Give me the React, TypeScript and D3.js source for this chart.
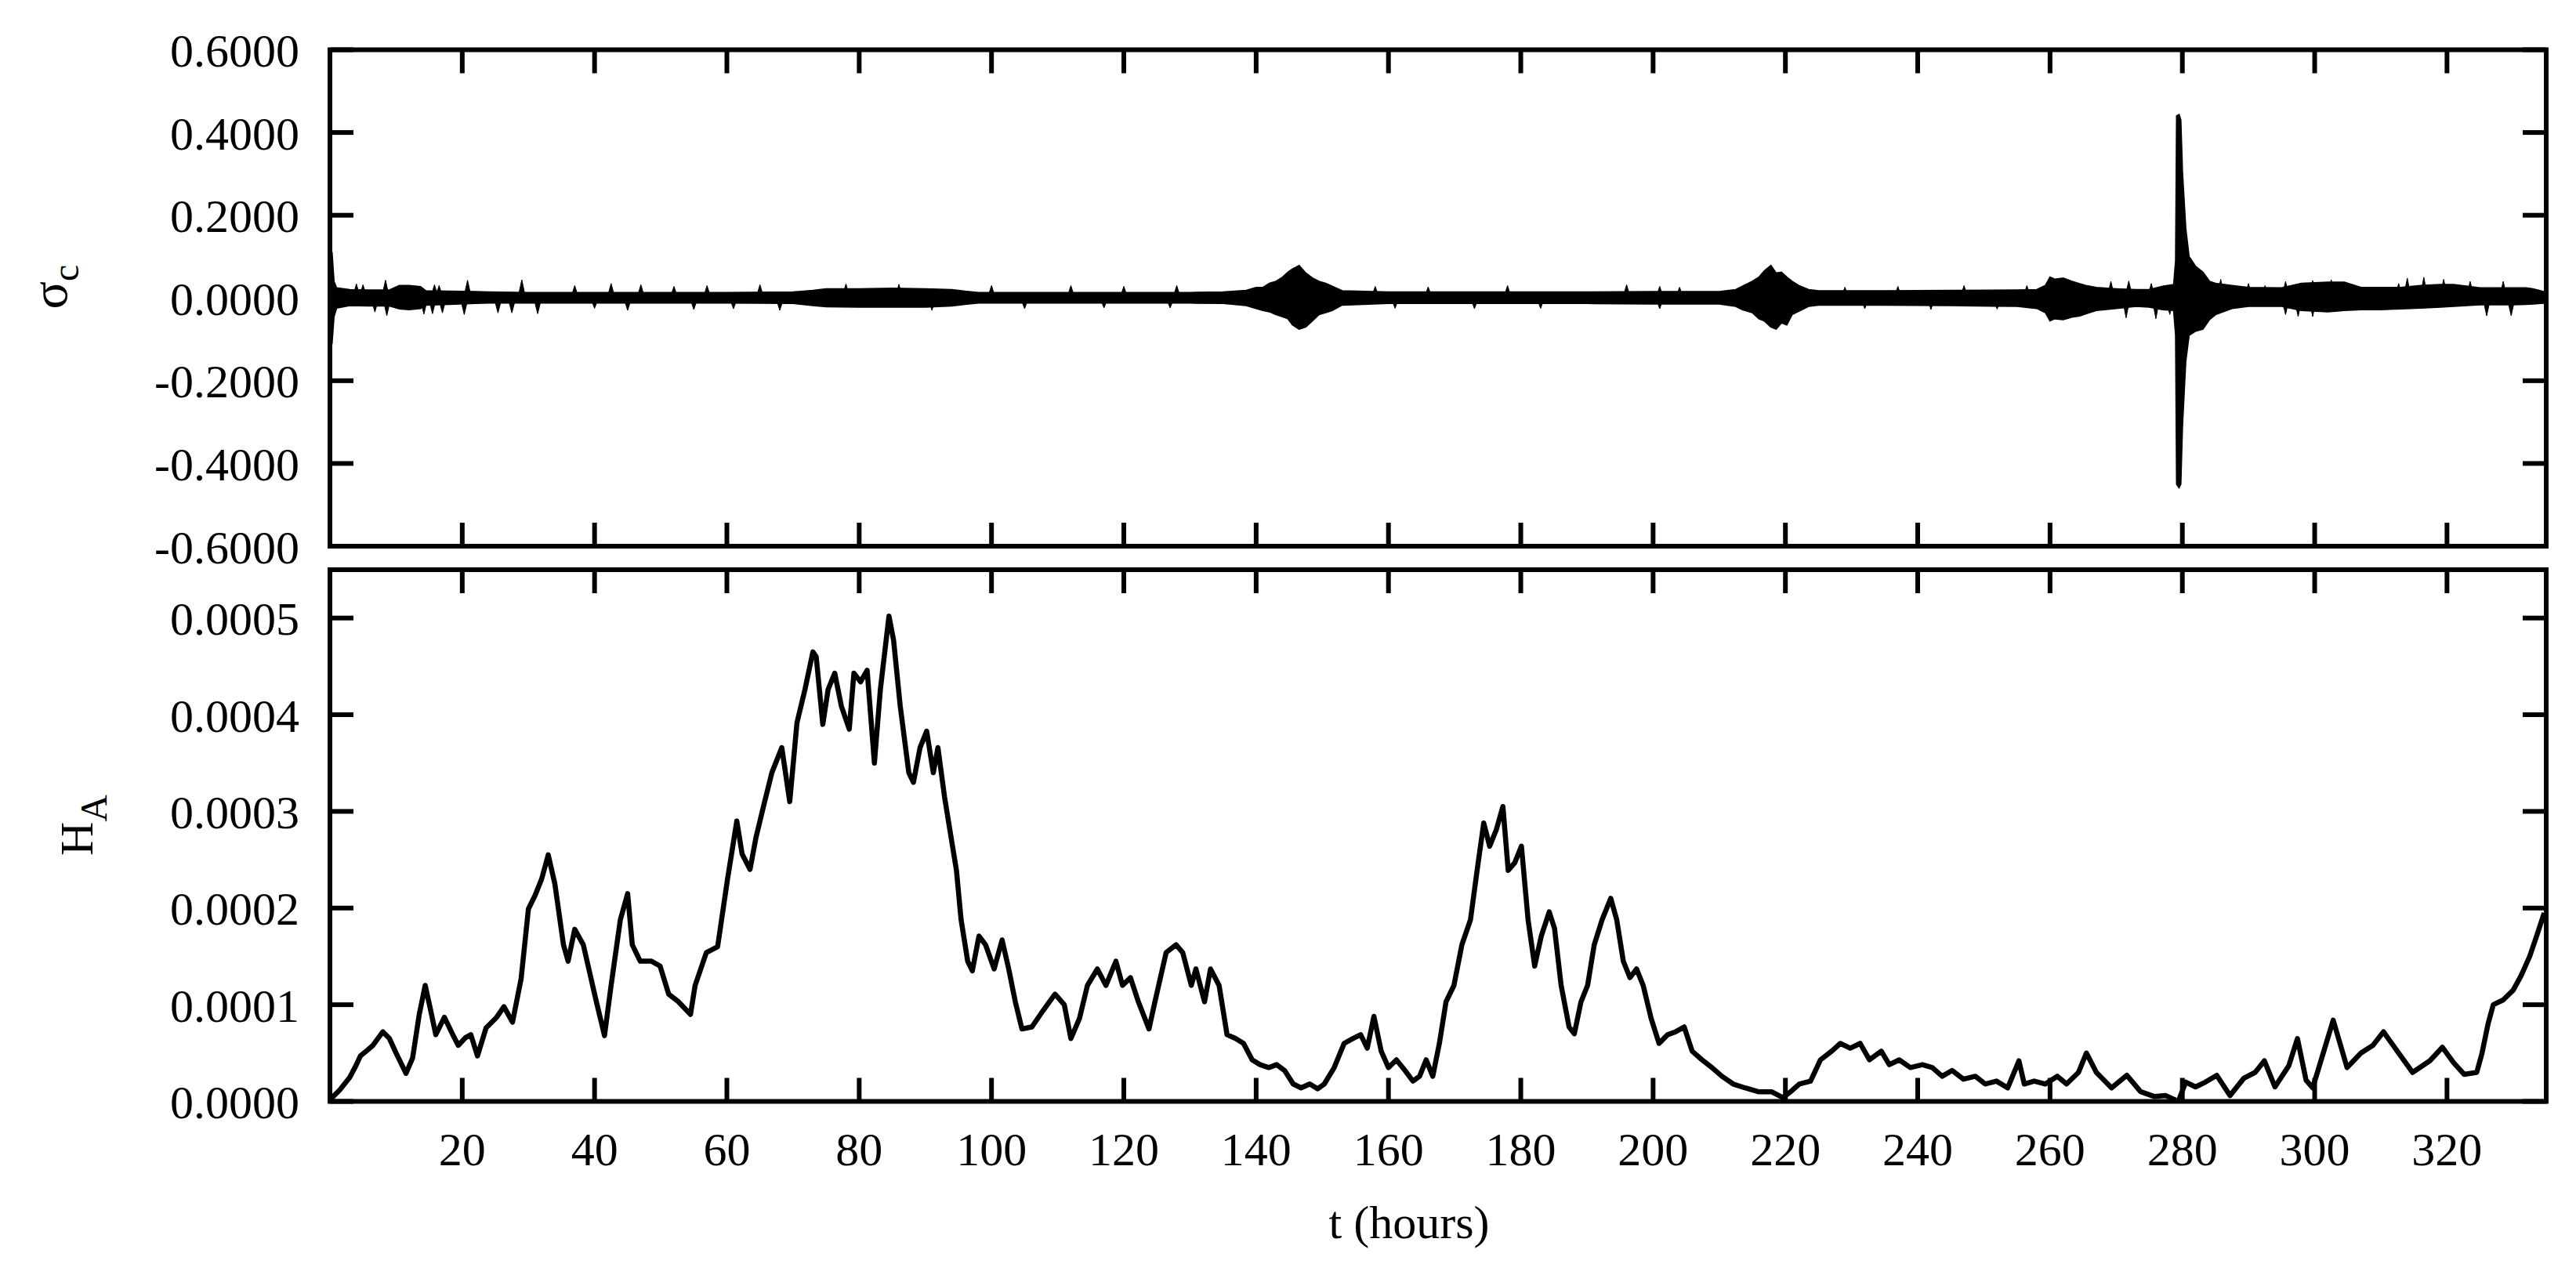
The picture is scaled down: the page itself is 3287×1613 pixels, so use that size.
import React from "react";
import * as d3 from "d3";

// ---------- data ----------
// sigma_c : dense oscillation, stored as the envelope of its band ...
const sigmaT = [0,0.3,0.6,1,3,6,9,10.5,12,13.7,14.5,18,22,24,30,40,50,60,70,73,75,80,85,90,94,96,98,110,120,130,135,138.5,140,141,142,143,144,144.8,145.5,146.5,147.5,148.5,149.5,150.5,151.5,153,160,170,180,190,200,210,212.5,213.5,215,216,216.8,217.8,218.6,219.4,220.2,221,222,223.5,225,235,245,255,258,259.3,260,260.7,262,263.3,264.5,265.4,267,270,273,275,277,278.7,279,279.15,279.5,279.75,280,280.5,281,282,283.1,284.1,285,287.5,290,295,298,302,304.5,307,310,313,316,319,321,325,330,332,333,334.9];
const sigmaHi = [0.12,0.11,0.04,0.024,0.02,0.019,0.019,0.03,0.03,0.027,0.017,0.016,0.015,0.014,0.013,0.013,0.013,0.013,0.014,0.018,0.022,0.022,0.023,0.022,0.02,0.016,0.013,0.013,0.013,0.013,0.014,0.018,0.025,0.025,0.035,0.04,0.05,0.062,0.07,0.078,0.06,0.048,0.04,0.035,0.028,0.017,0.014,0.014,0.014,0.014,0.015,0.015,0.02,0.028,0.04,0.05,0.065,0.078,0.06,0.062,0.05,0.04,0.03,0.02,0.017,0.017,0.018,0.019,0.02,0.03,0.05,0.045,0.048,0.04,0.034,0.03,0.025,0.022,0.02,0.02,0.028,0.032,0.09,0.44,0.443,0.43,0.305,0.168,0.1,0.076,0.062,0.04,0.035,0.03,0.025,0.024,0.035,0.038,0.038,0.025,0.025,0.025,0.03,0.032,0.032,0.024,0.024,0.024,0.022,0.014];
const sigmaLo = [-0.11,-0.11,-0.045,-0.024,-0.018,-0.019,-0.019,-0.026,-0.028,-0.025,-0.017,-0.015,-0.013,-0.012,-0.012,-0.012,-0.012,-0.012,-0.013,-0.018,-0.021,-0.022,-0.022,-0.022,-0.019,-0.015,-0.012,-0.012,-0.012,-0.012,-0.013,-0.018,-0.025,-0.03,-0.033,-0.04,-0.045,-0.05,-0.065,-0.075,-0.07,-0.055,-0.04,-0.035,-0.03,-0.017,-0.013,-0.013,-0.013,-0.013,-0.014,-0.014,-0.02,-0.028,-0.035,-0.05,-0.055,-0.07,-0.075,-0.06,-0.065,-0.04,-0.032,-0.02,-0.017,-0.017,-0.018,-0.02,-0.025,-0.035,-0.055,-0.05,-0.052,-0.046,-0.043,-0.038,-0.03,-0.025,-0.02,-0.022,-0.028,-0.03,-0.09,-0.45,-0.458,-0.45,-0.31,-0.153,-0.09,-0.08,-0.075,-0.052,-0.04,-0.025,-0.02,-0.02,-0.03,-0.033,-0.03,-0.028,-0.028,-0.026,-0.024,-0.022,-0.02,-0.016,-0.016,-0.015,-0.014,-0.012];
// ... and the isolated excursions that stick out of the band
const spikeT = [4,5,8.4,15.8,16.5,20.8,29,37,42.5,47,52,57,65,78,86,100,112,120,128,158,166,178,196,201,204,229,237,247,256.5,269.2,271.9,275.3,285.8,290,292.5,295.6,299.7,302.5,312.7,314,316.5,319.5,323.5,328.5,
  6.8,8.6,14.2,15.5,17,20.3,25.4,27.5,31.4,40,45,55,61,68,91,105,117,127,161,173,183,201,232,242,252,271.5,276,278.1,295.6,297.5,299.7,326,329.7];
const spikeV = [0.034,0.032,0.043,0.032,0.03,0.043,0.044,0.03,0.035,0.032,0.028,0.03,0.032,0.034,0.033,0.03,0.03,0.028,0.03,0.028,0.027,0.03,0.032,0.028,0.026,0.026,0.028,0.03,0.03,0.04,0.041,0.035,0.045,0.035,0.03,0.04,0.042,0.044,0.035,0.048,0.05,0.045,0.04,0.04,
  -0.034,-0.043,-0.039,-0.038,-0.036,-0.04,-0.036,-0.036,-0.038,-0.025,-0.03,-0.028,-0.026,-0.03,-0.03,-0.026,-0.024,-0.024,-0.025,-0.026,-0.025,-0.026,-0.026,-0.028,-0.027,-0.048,-0.05,-0.04,-0.04,-0.045,-0.045,-0.043,-0.043];

// H_A
const hT = [0,0.35,1.5,3,4,4.6,5.5,6.5,8,9,10,11.5,12.5,13.5,14.4,15.2,16,17.3,18.5,19.4,20.5,21.3,22.3,23.6,25.2,26.3,27.6,28.9,30,31,32,33,34,35.3,36,37,38.3,40,41.5,42.5,43.9,45,45.7,46.9,48.6,49.9,51.2,52.7,54.5,55.2,56.9,58.6,60.1,61.5,62.3,63.5,64.4,65.6,66.8,68.3,69.5,70.6,71.8,73,73.5,74.5,75.3,76.3,77.3,78.5,79.2,80.2,81.2,82.3,83.2,84.5,85.2,86.2,87.5,88.2,89.2,90.2,91.2,91.9,92.9,93.7,94.7,95.4,96.4,97.1,98.1,99.1,100.4,101.6,102.6,103.6,104.6,106.1,107.8,109.6,111,112,113.3,114.5,116,117.3,118.8,119.8,121,122.2,123.8,124.7,126.4,127.9,128.9,130.2,130.9,132.2,133.1,134.4,135.6,136.9,138.1,139.4,140.6,141.9,143.1,144.3,145.6,146.8,148.1,149.3,150.3,151.8,153.3,154.6,155.8,156.8,157.8,158.9,160,161.2,162.5,163.7,164.7,165.7,166.7,167.7,168.7,169.9,171.1,172.4,173.4,174.4,175.3,176.3,177.3,178.1,179.1,180.1,181.1,182.1,183.1,184.3,185.1,186.1,187.3,188.1,189.1,190.1,191.1,192.3,193.6,194.5,195.5,196.5,197.5,198.5,199.7,200.9,202.2,203.4,204.7,205.9,207.4,208.9,210.4,212.1,213.9,215.9,217.9,219.6,220.8,222.1,223.8,225.3,227,228.3,229.8,231.3,232.7,234.5,235.7,237.2,238.9,240.7,242.2,243.7,245.2,246.9,248.7,250.2,251.9,253.6,255.3,256.1,257.6,259.3,261.1,262.5,264.3,265.5,267,269.3,271.6,273.7,275.8,277.5,279.4,280.5,282,283.5,285.2,287.2,289.3,291,292.4,294,296.1,297.4,298.7,299.7,301.3,302.8,304.9,307,308.8,310.4,312.7,314.8,317.4,319.3,321,322.6,324.5,325.3,326.2,327,328.5,330,331.2,332.5,333.5,334.7];
const hA = [0,0.04e-4,0.12e-4,0.25e-4,0.38e-4,0.47e-4,0.52e-4,0.58e-4,0.72e-4,0.65e-4,0.5e-4,0.29e-4,0.45e-4,0.9e-4,1.2e-4,0.95e-4,0.69e-4,0.87e-4,0.7e-4,0.58e-4,0.66e-4,0.69e-4,0.47e-4,0.76e-4,0.87e-4,0.98e-4,0.82e-4,1.27e-4,1.99e-4,2.13e-4,2.3e-4,2.55e-4,2.25e-4,1.62e-4,1.45e-4,1.78e-4,1.62e-4,1.11e-4,0.68e-4,1.2e-4,1.88e-4,2.15e-4,1.62e-4,1.45e-4,1.45e-4,1.4e-4,1.11e-4,1.03e-4,0.9e-4,1.2e-4,1.54e-4,1.6e-4,2.3e-4,2.9e-4,2.56e-4,2.4e-4,2.73e-4,3.07e-4,3.4e-4,3.66e-4,3.1e-4,3.92e-4,4.26e-4,4.65e-4,4.6e-4,3.9e-4,4.26e-4,4.43e-4,4.09e-4,3.85e-4,4.43e-4,4.34e-4,4.46e-4,3.5e-4,4.26e-4,5.02e-4,4.77e-4,4.09e-4,3.4e-4,3.3e-4,3.66e-4,3.83e-4,3.4e-4,3.66e-4,3.15e-4,2.81e-4,2.39e-4,1.88e-4,1.45e-4,1.35e-4,1.71e-4,1.62e-4,1.37e-4,1.67e-4,1.37e-4,1.03e-4,0.75e-4,0.77e-4,0.94e-4,1.11e-4,1.0e-4,0.65e-4,0.86e-4,1.2e-4,1.37e-4,1.2e-4,1.45e-4,1.2e-4,1.28e-4,1.03e-4,0.75e-4,1.03e-4,1.54e-4,1.62e-4,1.54e-4,1.2e-4,1.37e-4,1.03e-4,1.37e-4,1.2e-4,0.69e-4,0.65e-4,0.6e-4,0.43e-4,0.38e-4,0.35e-4,0.38e-4,0.32e-4,0.18e-4,0.14e-4,0.18e-4,0.13e-4,0.18e-4,0.35e-4,0.6e-4,0.65e-4,0.69e-4,0.55e-4,0.88e-4,0.52e-4,0.35e-4,0.43e-4,0.32e-4,0.21e-4,0.26e-4,0.43e-4,0.26e-4,0.6e-4,1.03e-4,1.2e-4,1.62e-4,1.88e-4,2.39e-4,2.88e-4,2.64e-4,2.81e-4,3.05e-4,2.39e-4,2.47e-4,2.64e-4,1.88e-4,1.4e-4,1.71e-4,1.96e-4,1.79e-4,1.2e-4,0.77e-4,0.7e-4,1.03e-4,1.2e-4,1.62e-4,1.88e-4,2.1e-4,1.88e-4,1.45e-4,1.28e-4,1.37e-4,1.2e-4,0.86e-4,0.6e-4,0.69e-4,0.72e-4,0.77e-4,0.52e-4,0.43e-4,0.35e-4,0.26e-4,0.18e-4,0.14e-4,0.1e-4,0.1e-4,0.04e-4,0.1e-4,0.18e-4,0.21e-4,0.43e-4,0.52e-4,0.6e-4,0.55e-4,0.6e-4,0.43e-4,0.52e-4,0.38e-4,0.43e-4,0.35e-4,0.38e-4,0.35e-4,0.26e-4,0.32e-4,0.23e-4,0.26e-4,0.18e-4,0.21e-4,0.14e-4,0.42e-4,0.18e-4,0.21e-4,0.18e-4,0.26e-4,0.18e-4,0.3e-4,0.5e-4,0.3e-4,0.14e-4,0.27e-4,0.1e-4,0.05e-4,0.06e-4,0,0.2e-4,0.15e-4,0.2e-4,0.27e-4,0.06e-4,0.24e-4,0.3e-4,0.42e-4,0.15e-4,0.37e-4,0.65e-4,0.22e-4,0.14e-4,0.5e-4,0.84e-4,0.35e-4,0.5e-4,0.58e-4,0.72e-4,0.5e-4,0.3e-4,0.42e-4,0.56e-4,0.4e-4,0.28e-4,0.3e-4,0.5e-4,0.8e-4,1.0e-4,1.05e-4,1.15e-4,1.3e-4,1.5e-4,1.7e-4,1.95e-4];

const xTicks = [20,40,60,80,100,120,140,160,180,200,220,240,260,280,300,320];
const sigmaTicks = [-0.6,-0.4,-0.2,0,0.2,0.4,0.6];
const hTicks = [0,0.0001,0.0002,0.0003,0.0004,0.0005];
const xDomain = [0, 335];
const sigmaDomain = [-0.6, 0.6];
const hDomain = [0, 0.00055];

// ---------- layout ----------
const W = 3287, H = 1613;
const L = 421, R = 3249;
const T1 = 63.5, B1 = 697, T2 = 727, B2 = 1405.5;
const FONT = "'Liberation Serif', 'Times New Roman', Times, serif";
const FS = 60;
const TICK = 30;
const SW = 6;
const SPIKE_HALF = 5;

export default function App() {
  const x = d3.scaleLinear().domain(xDomain).range([L, R]);
  const y1 = d3.scaleLinear().domain(sigmaDomain).range([B1, T1]);
  const y2 = d3.scaleLinear().domain(hDomain).range([B2, T2]);

  const area = d3.area<number>()
    .x((_, i) => x(sigmaT[i]))
    .y0((_, i) => y1(sigmaLo[i]))
    .y1((_, i) => y1(sigmaHi[i]))
    .curve(d3.curveLinear);
  const areaPath = area(sigmaT) || "";

  const spikePath = spikeT.map((t, i) => {
    const p = d3.path();
    p.moveTo(x(t) - SPIKE_HALF, y1(0));
    p.lineTo(x(t), y1(spikeV[i]));
    p.lineTo(x(t) + SPIKE_HALF, y1(0));
    p.closePath();
    return p.toString();
  }).join("");

  const line = d3.line<number>()
    .x((_, i) => x(hT[i]))
    .y((_, i) => y2(hA[i]))
    .curve(d3.curveLinear);
  const linePath = line(hA) || "";

  const fmt = (v: number) => d3.format(".4f")(v).replace("\u2212", "-");

  const panel = (top: number, bot: number, yScale: any, yTicks: number[], key: string) => (
    <g key={key}>
      {xTicks.map((t) => (
        <g key={"xt" + t}>
          <line x1={x(t)} x2={x(t)} y1={bot} y2={bot - TICK} stroke="#000" strokeWidth={SW} />
          <line x1={x(t)} x2={x(t)} y1={top} y2={top + TICK} stroke="#000" strokeWidth={SW} />
        </g>
      ))}
      {yTicks.map((v) => (
        <g key={"yt" + v}>
          <line x1={L} x2={L + TICK} y1={yScale(v)} y2={yScale(v)} stroke="#000" strokeWidth={SW} />
          <line x1={R - TICK} x2={R} y1={yScale(v)} y2={yScale(v)} stroke="#000" strokeWidth={SW} />
          <text x={382} y={yScale(v)} dy="0.36em" textAnchor="end" fontSize={FS} fontFamily={FONT}>
            {fmt(v)}
          </text>
        </g>
      ))}
    </g>
  );

  return (
    <svg width={W} height={H} viewBox={`0 0 ${W} ${H}`}
      style={{ position: "absolute", left: 0, top: 0, display: "block", background: "#fff" }}>
      <rect x={0} y={0} width={W} height={H} fill="#fff" />
      <defs>
        <clipPath id="c1"><rect x={L} y={T1} width={R - L} height={B1 - T1} /></clipPath>
        <clipPath id="c2"><rect x={L} y={T2} width={R - L} height={B2 - T2} /></clipPath>
      </defs>

      <g clipPath="url(#c1)">
        <path d={areaPath} fill="#000" stroke="#000" strokeWidth={2} />
        <path d={spikePath} fill="#000" stroke="#000" strokeWidth={1} />
      </g>
      <path d={linePath} fill="none" stroke="#000" strokeWidth={6.5} strokeLinejoin="round" clipPath="url(#c2)" />

      {panel(T1, B1, y1, sigmaTicks, "p1")}
      {panel(T2, B2, y2, hTicks, "p2")}

      <rect x={L} y={T1} width={R - L} height={B1 - T1} fill="none" stroke="#000" strokeWidth={SW} />
      <rect x={L} y={T2} width={R - L} height={B2 - T2} fill="none" stroke="#000" strokeWidth={SW} />

      {xTicks.map((t) => (
        <text key={"xl" + t} x={x(t)} y={1487} textAnchor="middle" fontSize={FS} fontFamily={FONT}>{t}</text>
      ))}

      <text x={1798} y={1580} textAnchor="middle" fontSize={FS} fontFamily={FONT}>t (hours)</text>

      <text transform="translate(85,366) rotate(-90)" textAnchor="middle" fontFamily={FONT} fontSize={66}>
        <tspan>σ</tspan>
        <tspan fontSize={48} dy={15}>c</tspan>
      </text>
      <text transform="translate(118,1053) rotate(-90)" textAnchor="middle" fontFamily={FONT} fontSize={FS}>
        <tspan>H</tspan>
        <tspan fontSize={48} dy={18}>A</tspan>
      </text>
    </svg>
  );
}
